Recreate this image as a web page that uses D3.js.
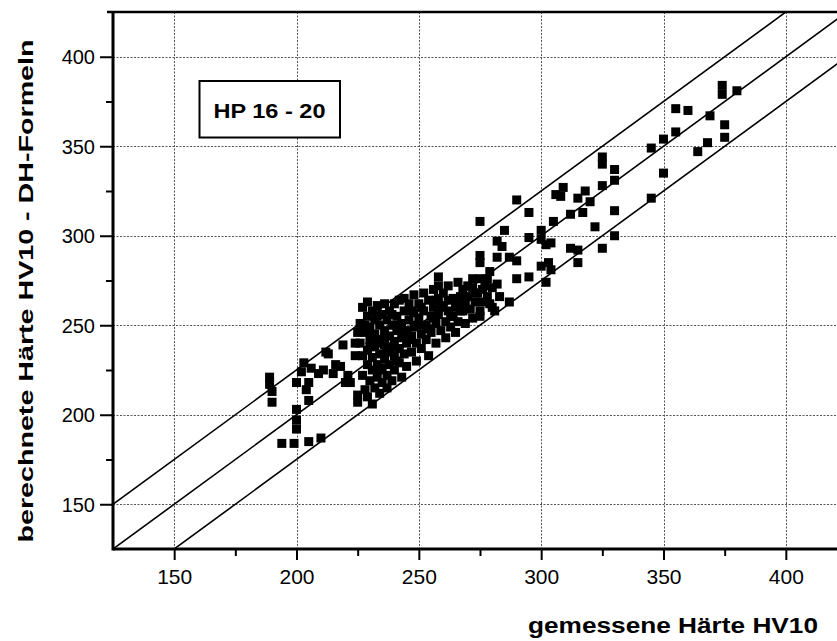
<!DOCTYPE html>
<html>
<head>
<meta charset="utf-8">
<script src="https://cdn.jsdelivr.net/npm/d3@7"></script>
<style>
  html, body { margin: 0; padding: 0; background: #fff; }
  svg { display: block; }
</style>
</head>
<body>
<div id="chart"></div>
<script>
// ---------------- data ----------------
const xTicks = [150, 200, 250, 300, 350, 400];
const yTicks = [150, 200, 250, 300, 350, 400];
const minorTicks = [175, 225, 275, 325, 375];
const bandOffsets = [-25, 0, 25];
const seriesLabel = "HP 16 - 20";
const xTitle = "gemessene Härte HV10";
const yTitle = "berechnete Härte HV10 - DH-Formeln";

// [gemessene HV10, berechnete HV10]
const pointsLow = [
  [189,221],[189,217],[190,213],[190,207],[200,218],[203,229],[206,226],[205,218],
  [205,208],[200,203],[200,197],[200,192],[194,184],[199,184],[205,185],[210,187],
  [202,224],[209,223],[204,214],[211,225],[213,234],[216,228],[215,223],[218,227],
  [221,222],[222,218],[219,239],[220,218],[224,240],[224,233],[225,211],[225,207],
  [225,246],[212,235]
];
const pointsDense = [
  [226,251],[226,240],[227,260],[227,233],[227,222],[228,214],[228,246],[229,263],
  [229,255],[229,236],[229,228],[229,210],[230,249],[230,242],[230,219],[231,232],
  [231,258],[231,225],[231,206],[232,253],[232,245],[232,238],[232,215],[233,261],
  [233,228],[233,221],[234,250],[234,242],[234,234],[234,212],[235,256],[235,226],
  [235,218],[236,262],[236,247],[236,239],[236,231],[237,253],[237,222],[237,215],
  [238,258],[238,244],[238,236],[238,228],[239,250],[239,219],[240,262],[240,241],
  [240,233],[240,225],[241,255],[241,247],[242,264],[242,237],[242,229],[243,251],
  [243,243],[243,221],[244,265],[244,258],[244,234],[245,247],[245,240],[245,227],
  [246,262],[246,253],[247,244],[247,235],[248,267],[248,257],[248,249],[249,240],
  [249,230],[250,262],[250,254],[251,245],[251,237],[252,268],[252,258],[253,250],
  [253,242],[254,264],[254,233],[255,255],[255,246],[256,270],[256,260],[257,251],
  [257,240],[258,277],[258,272],[258,265],[258,256],[259,247],[260,268],[260,261],
  [261,252],[261,243],[262,272],[262,258],[263,249],[264,265],[264,255],[265,260],
  [265,246],[266,274],[266,252],[267,266],[267,258],[268,270],[269,262],[269,251],
  [270,266],[271,259],[272,276],[272,271],[272,254],[273,263],[274,268],[275,276],
  [275,258],[275,255],[276,263],[277,272],[278,266],[279,280],[279,262],[280,271],
  [280,260],[281,258],[282,273],[283,266],[287,263],
  [228,250],[230,238],[231,245],[233,255],[233,240],[234,225],[236,243],[237,235],
  [239,256],[239,238],[241,230],[242,250],[244,246],[246,242],[247,258],[249,250],
  [251,260],[252,250],[254,248],[256,254],[257,264],[259,260],[262,264],[263,255],
  [266,262],[268,258],[270,272],[273,268],[276,270],[278,276]
];
const pointsHigh = [
  [374,384],[374,379],[380,381],[355,371],[360,370],[369,367],[375,362],[375,355],
  [355,358],[350,354],[345,349],[368,352],[364,347],[325,344],[325,340],[330,337],
  [330,331],[325,328],[350,335],[345,321],[330,314],[290,320],[295,313],[275,308],
  [306,323],[309,327],[308,322],[318,325],[315,321],[320,319],[317,313],[312,312],
  [322,305],[330,300],[305,308],[300,303],[285,303],[295,299],[282,297],[284,294],
  [275,289],[275,285],[282,288],[287,288],[290,286],[300,298],[304,296],[302,295],
  [300,283],[303,285],[304,281],[312,293],[315,292],[315,285],[325,293],[290,276],
  [295,277],[302,274]
];

// ---------------- layout ----------------
const W = 837, H = 641;
const mLeft = 113, mTop = 12, mRight = 847, mBottom = 549;

const x = d3.scaleLinear().domain([125, 425]).range([mLeft, mRight]);
const y = d3.scaleLinear().domain([125, 425]).range([mBottom, mTop]);

const svg = d3.select("#chart").append("svg")
  .attr("width", W).attr("height", H)
  .style("font-family", "'Liberation Sans', Arial, sans-serif");

svg.append("rect").attr("width", W).attr("height", H).attr("fill", "#fff");

svg.append("clipPath").attr("id", "plotclip")
  .append("rect").attr("x", mLeft).attr("y", mTop)
  .attr("width", mRight - mLeft).attr("height", mBottom - mTop);

const plot = svg.append("g").attr("clip-path", "url(#plotclip)");

// grid
plot.selectAll("line.vgrid").data(xTicks).join("line")
  .attr("class", "vgrid")
  .attr("x1", d => Math.round(x(d)) + 0.5).attr("x2", d => Math.round(x(d)) + 0.5)
  .attr("y1", mTop).attr("y2", mBottom)
  .attr("stroke", "#555").attr("stroke-width", 1)
  .attr("stroke-dasharray", "2,1.5");
plot.selectAll("line.hgrid").data(yTicks).join("line")
  .attr("class", "hgrid")
  .attr("x1", mLeft).attr("x2", mRight)
  .attr("y1", d => Math.round(y(d)) + 0.5).attr("y2", d => Math.round(y(d)) + 0.5)
  .attr("stroke", "#555").attr("stroke-width", 1)
  .attr("stroke-dasharray", "2,1.5");

// reference lines y = x + offset
const lineGen = d3.line().x(d => x(d[0])).y(d => y(d[1]));
plot.selectAll("path.band").data(bandOffsets).join("path")
  .attr("class", "band")
  .attr("d", o => lineGen([[100, 100 + o], [450, 450 + o]]))
  .attr("fill", "none").attr("stroke", "#000").attr("stroke-width", 1.6);

// points
const sz = 9;
const allPoints = pointsLow.concat(pointsDense, pointsHigh);
plot.selectAll("rect.pt").data(allPoints).join("rect")
  .attr("class", "pt")
  .attr("x", d => x(d[0]) - sz / 2)
  .attr("y", d => y(d[1]) - sz / 2)
  .attr("width", sz).attr("height", sz)
  .attr("fill", "#000");

// axes
const xAxis = svg.append("g").attr("transform", `translate(0,${mBottom})`)
  .call(d3.axisBottom(x).tickValues(xTicks).tickSize(11).tickPadding(9).tickFormat(d3.format("d")));
const xMinor = svg.append("g").attr("transform", `translate(0,${mBottom})`)
  .call(d3.axisBottom(x).tickValues(minorTicks).tickSize(7).tickFormat(""));
const yAxis = svg.append("g").attr("transform", `translate(${mLeft},0)`)
  .call(d3.axisLeft(y).tickValues(yTicks).tickSize(13).tickPadding(5).tickFormat(d3.format("d")));
const yMinor = svg.append("g").attr("transform", `translate(${mLeft},0)`)
  .call(d3.axisLeft(y).tickValues(minorTicks).tickSize(7).tickFormat(""));

[xAxis, xMinor, yAxis, yMinor].forEach(g => {
  g.select(".domain").remove();
  g.selectAll(".tick line").attr("stroke", "#000").attr("stroke-width", 2);
});
xAxis.selectAll(".tick text").attr("fill", "#000").style("font-size", "21px")
  .attr("font-family", "'Liberation Sans', Arial, sans-serif");
yAxis.selectAll(".tick text").attr("fill", "#000").style("font-size", "20px")
  .attr("font-family", "'Liberation Sans', Arial, sans-serif")
  .attr("dy", "0.36em");

// axis lines / frame
svg.append("line").attr("x1", mLeft).attr("x2", W + 20).attr("y1", mBottom).attr("y2", mBottom)
  .attr("stroke", "#000").attr("stroke-width", 3);
svg.append("line").attr("x1", mLeft).attr("x2", mLeft).attr("y1", mTop - 1).attr("y2", mBottom + 1.5)
  .attr("stroke", "#000").attr("stroke-width", 3);
svg.append("line").attr("x1", mLeft - 6).attr("x2", W + 20).attr("y1", mTop).attr("y2", mTop)
  .attr("stroke", "#000").attr("stroke-width", 2.5);

// label box
svg.append("rect").attr("x", 199.5).attr("y", 81).attr("width", 140.5).attr("height", 56.5)
  .attr("fill", "#fff").attr("stroke", "#000").attr("stroke-width", 2);
svg.append("text").attr("x", 269.5).attr("y", 118)
  .attr("text-anchor", "middle").attr("font-weight", "bold").attr("font-size", 21)
  .attr("textLength", 112).attr("lengthAdjust", "spacingAndGlyphs")
  .text(seriesLabel);

// axis titles
svg.append("text").attr("x", 818).attr("y", 633)
  .attr("text-anchor", "end").attr("font-weight", "bold").attr("font-size", 22)
  .attr("textLength", 290).attr("lengthAdjust", "spacingAndGlyphs")
  .text(xTitle);
svg.append("text")
  .attr("transform", "translate(33,291) rotate(-90)")
  .attr("text-anchor", "middle").attr("font-weight", "bold").attr("font-size", 21)
  .attr("textLength", 503).attr("lengthAdjust", "spacingAndGlyphs")
  .text(yTitle);
</script>
</body>
</html>
